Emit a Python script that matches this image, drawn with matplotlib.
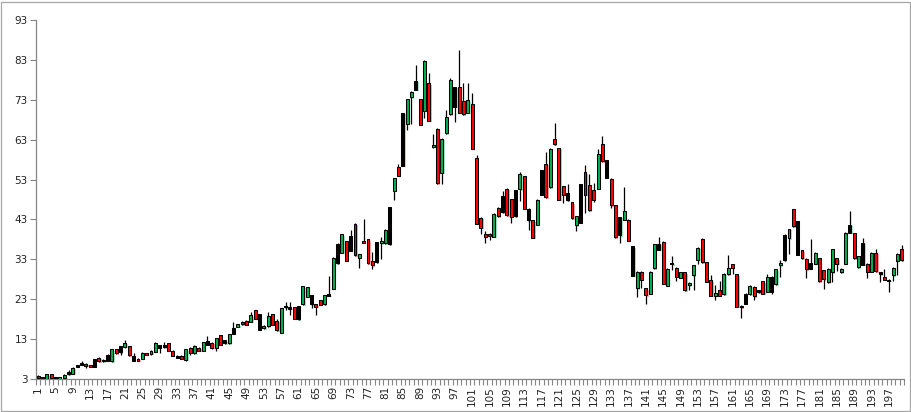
import matplotlib
matplotlib.use("Agg")
import matplotlib.pyplot as plt
from matplotlib.patches import Rectangle

# ---- data ----
opens = [3.8,3.5,3.1,4.2,3.0,3.1,3.3,4.2,4.3,6.0,
         6.5,6.8,6.5,6.1,8.3,7.4,7.6,7.4,10.5,9.7,
         11.0,11.2,7.6,8.1,8.0,9.4,9.25,9.8,10.75,10.9,
         11.9,10.1,8.3,8.8,7.75,10.75,9.4,10.75,10.1,11.6,
         12.1,10.75,14.0,11.9,11.9,14.4,16.1,17.4,17.6,17.3,
         20.25,15.4,15.75,16.25,19.2,17.6,14.6,21.0,20.6,21.0,
         18.0,21.7,23.6,21.7,21.75,22.75,21.7,23.8,25.6,32.0,
         34.6,37.5,35.1,41.9,33.4,37.7,38.0,32.7,32.3,37.0,
         37.0,36.8,50.2,56.2,56.5,67.0,73.6,75.5,73.2,70.2,
         77.1,61.2,65.7,54.7,64.6,69.4,71.3,76.2,72.7,69.8,
         71.9,58.4,43.4,39.4,39.4,38.6,45.9,44.75,50.7,48.1,
         43.8,50.6,53.9,42.75,42.75,41.6,49.25,56.9,51.1,63.2,
         60.9,51.3,47.75,47.3,41.5,42.1,54.8,51.7,50.4,50.7,
         61.9,53.4,53.2,46.6,39.0,42.9,42.9,28.85,25.7,29.9,
         25.7,24.3,30.75,35.4,37.4,26.3,31.8,30.9,28.3,29.7,
         26.5,29.0,32.9,38.2,32.3,27.7,23.8,25.4,24.2,29.25,
         31.75,29.2,21.4,21.9,24.25,26.1,24.75,27.5,24.8,24.8,
         26.7,31.5,32.75,38.3,45.5,34.2,35.25,33.2,30.6,31.9,
         33.3,30.25,27.2,29.7,33.3,29.7,31.9,39.6,39.5,31.0,
         31.6,31.9,29.8,34.7,29.2,28.5,27.6,29.0,32.6,35.7]
closes = [3.2,3.2,4.2,3.3,3.4,3.4,4.0,4.7,5.8,6.4,
          7.0,6.3,6.0,8.0,7.4,7.8,9.1,10.4,9.4,11.2,
          12.0,8.9,8.8,7.6,9.5,9.0,10.1,12.1,11.4,11.5,
          10.1,8.8,8.8,8.0,10.4,9.6,11.25,10.1,12.25,12.6,
          10.75,13.25,11.5,12.75,14.25,15.7,16.7,16.75,16.6,19.0,
          18.1,19.2,16.4,18.9,16.6,15.25,20.75,21.4,21.0,18.1,
          21.3,26.25,26.0,24.0,21.1,21.6,24.0,24.2,33.4,36.9,
          39.25,32.6,38.75,34.0,34.25,37.2,32.0,31.5,37.3,37.5,
          40.4,46.0,53.3,54.0,69.7,73.2,75.0,77.7,66.8,82.75,
          67.7,61.7,52.1,63.2,68.75,78.0,76.2,69.8,69.4,72.9,
          60.7,41.9,40.9,38.6,38.9,44.4,43.8,48.9,44.0,43.6,
          50.4,54.4,45.7,45.7,38.4,48.0,55.4,48.6,60.7,61.8,
          48.0,49.25,49.6,43.25,43.8,51.9,49.25,45.25,48.0,59.4,
          57.6,57.9,46.5,38.5,43.6,45.2,37.6,36.25,29.9,27.9,
          24.0,29.85,36.75,36.9,26.85,30.7,32.2,28.6,29.7,25.25,
          27.1,31.5,35.9,32.3,27.3,23.8,24.5,23.8,29.4,30.9,
          30.9,21.1,21.0,24.4,26.4,23.75,25.25,24.4,28.6,28.6,
          30.5,32.2,39.2,40.6,41.3,42.5,33.3,30.5,32.2,34.7,
          27.5,28.0,30.7,35.5,31.9,30.7,39.7,41.7,33.3,33.75,
          37.2,29.8,34.7,30.0,29.7,27.9,27.9,30.9,34.4,32.8]
highs = [4.0,3.6,4.3,4.3,3.5,3.5,4.2,5.2,5.9,6.5,
         7.4,6.9,6.6,8.1,8.4,7.9,9.2,10.5,10.6,11.3,
         12.8,11.3,9.6,8.2,9.7,9.5,10.2,12.2,11.5,12.4,
         12.0,10.2,8.9,8.9,10.5,10.9,11.4,10.9,12.4,13.75,
         12.2,13.4,14.1,12.9,14.4,17.25,16.8,17.5,17.7,19.75,
         20.4,19.3,16.5,19.9,19.3,18.1,20.9,22.4,22.3,21.1,
         21.4,26.4,26.1,24.1,21.9,22.9,24.1,28.9,33.5,37.0,
         39.4,37.6,40.25,42.0,34.4,43.0,38.1,34.9,37.4,38.7,
         40.5,46.1,53.4,57.0,69.8,73.3,75.1,81.7,73.3,82.9,
         79.7,64.3,65.8,63.3,70.5,78.5,76.3,85.6,77.1,77.1,
         74.7,59.2,43.5,40.1,39.5,44.5,46.0,50.1,50.8,48.2,
         50.5,55.0,54.0,45.8,42.9,48.1,55.5,59.9,60.8,67.2,
         61.0,51.4,52.0,47.4,43.9,52.0,56.7,54.4,52.25,60.7,
         64.0,58.0,53.3,46.7,43.7,51.2,43.0,36.4,30.0,30.0,
         25.8,30.0,36.9,38.6,37.5,30.8,33.75,31.0,29.8,29.8,
         27.2,31.6,36.0,38.3,32.4,29.1,26.6,27.6,29.5,34.2,
         31.9,29.3,21.5,24.5,26.5,26.2,25.4,27.6,29.4,28.8,
         30.6,32.8,39.4,40.7,45.6,42.6,35.4,33.3,38.2,34.8,
         33.4,30.4,30.8,35.6,33.4,30.8,39.8,45.0,39.6,33.9,
         38.3,32.0,34.8,35.5,29.8,30.7,28.0,31.0,34.5,36.5]
lows = [3.0,3.1,3.0,3.2,3.0,3.0,3.2,4.0,4.2,5.9,
        6.4,5.8,5.9,6.0,7.3,7.2,7.5,7.3,9.3,9.0,
        10.7,8.8,7.5,7.5,7.9,8.9,9.1,9.7,9.6,10.8,
        10.0,8.7,8.2,7.9,7.6,9.1,9.3,10.0,10.0,11.5,
        10.6,10.0,11.4,11.8,11.8,14.3,16.0,16.6,16.5,17.2,
        18.0,15.3,15.6,16.1,16.5,15.1,14.5,20.25,19.1,18.0,
        17.9,21.6,23.5,20.75,19.0,21.5,21.6,23.7,25.5,31.9,
        34.5,32.5,35.0,33.9,30.75,37.1,31.9,30.5,32.2,33.1,
        36.9,36.7,48.0,53.9,56.4,65.4,67.0,75.4,66.7,68.5,
        67.6,61.0,52.0,52.0,64.5,69.3,67.5,69.7,69.3,69.7,
        60.6,41.8,39.4,37.0,37.9,38.5,43.7,44.6,43.9,42.1,
        43.7,47.6,45.6,40.25,38.3,41.5,49.1,48.5,51.0,61.7,
        47.9,47.0,47.6,43.1,40.1,42.0,44.7,45.1,47.4,50.6,
        57.5,53.3,45.9,38.4,37.2,42.8,37.5,28.7,23.6,25.7,
        21.75,24.2,30.6,35.3,26.7,26.2,30.4,27.6,28.2,25.1,
        25.4,25.4,31.9,32.2,27.2,23.7,22.9,23.7,24.1,29.1,
        29.25,21.0,18.4,21.8,24.1,22.75,24.6,24.3,24.7,24.4,
        26.6,28.6,32.6,34.4,41.2,34.1,33.2,28.2,30.5,31.8,
        27.4,25.5,27.1,27.3,30.1,29.6,31.8,39.5,33.2,30.9,
        31.5,28.3,29.7,29.9,27.3,27.8,24.8,27.5,29.0,32.7]
# body colour class of each candle: g = green, r = red, k = black
kinds = ("rrgrkggkgk" "krrkrkkgrk" "grkrgrggkk" "rrkrgrgrgk"
         "rgrkgkgrrg" "rkggrrgkkr" "kggkrrgkgk" "grkrgrrrkg"
         "gkgrkggkrg" "rgrggg" "krrg" "rrrrrgrkrr" "kgrkrgkrgr"
         "rrkrgkrrrg" "rkrrkgrkgr" "rggkrggrgr" "gggrrrgrgg"
         "rrrkgrkrgk" "ggkgrkrrkg" "rrggrggkrg" "krgrkrkggr")

ylabels = [3, 13, 23, 33, 43, 53, 63, 73, 83, 93]
xlabels = list(range(1, 198, 4))

# ---- style ----
BODY = {"g": "#00B050", "r": "#FF0000", "k": "#000000"}
SHADOW = {"g": "#a9e3c3", "r": "#f7a8a8", "k": "#a9e3c3"}
AXIS_GRAY = "#868686"

fig = plt.figure(figsize=(9.12, 4.12), dpi=100)
ax = fig.add_axes([36 / 912, 1 - 379 / 412, 868 / 912, 359 / 412])

n = len(opens)
xs = list(range(1, n + 1))
bw = 0.68
for x, o, h, l, c, k in zip(xs, opens, highs, lows, closes, kinds):
    lo, hi = min(o, c), max(o, c)
    if hi - lo < 0.15:
        hi = lo + 0.15
    ax.add_patch(Rectangle((x - bw / 2 + 0.3, lo - 0.35), bw, hi - lo,
                           facecolor=SHADOW[k], edgecolor="none", zorder=1))
    ax.vlines(x, l, h, color="black", linewidth=0.9, zorder=2)
    ax.add_patch(Rectangle((x - bw / 2, lo), bw, hi - lo,
                           facecolor=BODY[k], edgecolor="black",
                           linewidth=0.75, zorder=3))

ax.set_xlim(0.5, n + 0.5)
ax.set_ylim(3, 93)
ax.set_yticks(ylabels)
ax.set_yticklabels([str(v) for v in ylabels], fontsize=7.5, color="#222222")
ax.set_xticks(xlabels)
ax.set_xticklabels([str(v) for v in xlabels], rotation=90, fontsize=7.5,
                   color="#222222")
ax.set_xticks([i + 0.5 for i in range(0, n + 1)], minor=True)
ax.tick_params(axis="x", which="major", length=0, pad=5)
ax.tick_params(axis="x", which="minor", length=4, color=AXIS_GRAY, width=0.8)
ax.tick_params(axis="y", which="major", length=4, color=AXIS_GRAY, width=0.8,
               pad=2)
for s in ("top", "right"):
    ax.spines[s].set_visible(False)
for s in ("left", "bottom"):
    ax.spines[s].set_color(AXIS_GRAY)
    ax.spines[s].set_linewidth(0.9)

fig.patches.append(Rectangle((1 / 912, 1 / 412), 909 / 912, 409 / 412,
                             transform=fig.transFigure, fill=False,
                             edgecolor="#a6a6a6", linewidth=0.9))

fig.savefig("out.png", dpi=100)
